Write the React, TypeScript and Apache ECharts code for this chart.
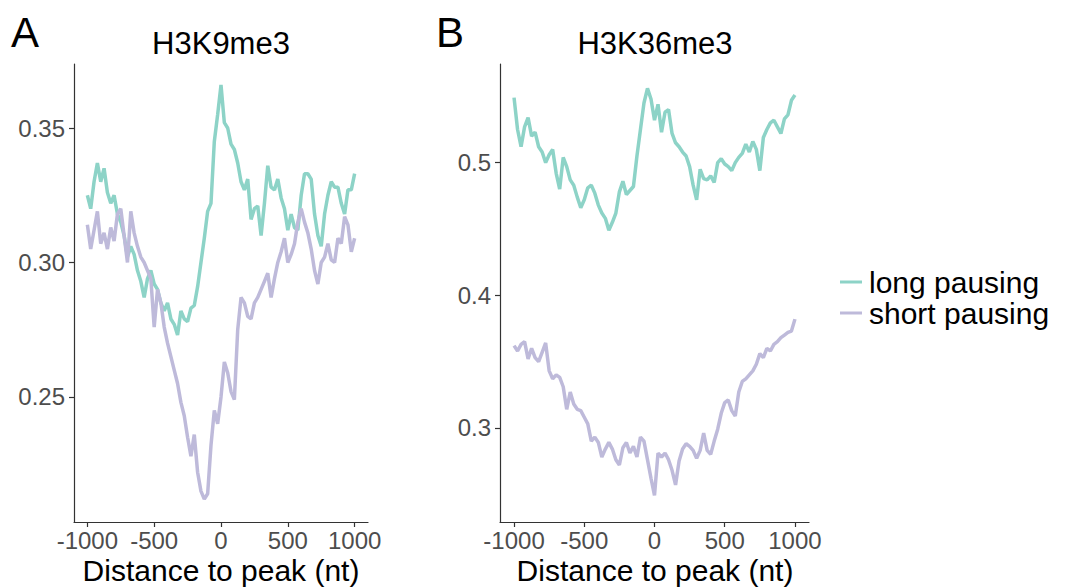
import React, { useEffect, useRef } from "react";
import * as echarts from "echarts";

// Distance to peak (nt)
const positions = [
  -1000, -975, -950, -925, -900, -875, -850, -825, -800, -775,
  -750, -725, -700, -675, -650, -625, -600, -575, -550, -525,
  -500, -475, -450, -425, -400, -375, -350, -325, -300, -275,
  -250, -225, -200, -175, -150, -125, -100, -75, -50, -25,
  0, 25, 50, 75, 100, 125, 150, 175, 200, 225,
  250, 275, 300, 325, 350, 375, 400, 425, 450, 475,
  500, 525, 550, 575, 600, 625, 650, 675, 700, 725,
  750, 775, 800, 825, 850, 875, 900, 925, 950, 975,
  1000,
];

// Panel A: H3K9me3
const k9Long = [
  0.325, 0.320, 0.330, 0.337, 0.330, 0.335, 0.326, 0.322, 0.325, 0.318,
  0.315, 0.310, 0.302, 0.306, 0.303, 0.297, 0.293, 0.287, 0.294, 0.297,
  0.292, 0.290, 0.285, 0.282, 0.285, 0.279, 0.277, 0.273, 0.282, 0.279,
  0.278, 0.283, 0.284, 0.291, 0.300, 0.309, 0.319, 0.322, 0.345, 0.355,
  0.366, 0.352, 0.350, 0.344, 0.342, 0.337, 0.330, 0.327, 0.331, 0.316,
  0.320, 0.321, 0.310, 0.322, 0.336, 0.328, 0.327, 0.331, 0.324, 0.320,
  0.312, 0.318, 0.313, 0.312, 0.325, 0.333, 0.333, 0.331, 0.318, 0.310,
  0.306, 0.318, 0.325, 0.330, 0.328, 0.328, 0.322, 0.318, 0.327, 0.327,
  0.333,
];
const k9Short = [
  0.314, 0.305, 0.312, 0.319, 0.307, 0.311, 0.305, 0.313, 0.308, 0.318,
  0.320, 0.310, 0.300, 0.319, 0.311, 0.306, 0.302, 0.300, 0.297, 0.294,
  0.276, 0.290, 0.285, 0.276, 0.270, 0.265, 0.260, 0.255, 0.248, 0.243,
  0.235, 0.228, 0.236, 0.222, 0.215, 0.212, 0.214, 0.232, 0.245, 0.240,
  0.250, 0.263, 0.259, 0.252, 0.249, 0.275, 0.287, 0.285, 0.280, 0.279,
  0.285, 0.287, 0.290, 0.293, 0.296, 0.287, 0.294, 0.300, 0.304, 0.309,
  0.300, 0.303, 0.307, 0.315, 0.320, 0.315, 0.311, 0.305, 0.297, 0.292,
  0.300, 0.302, 0.307, 0.301, 0.300, 0.309, 0.307, 0.317, 0.314, 0.304,
  0.309,
];

// Panel B: H3K36me3
const k36Long = [
  0.549, 0.525, 0.512, 0.527, 0.534, 0.520, 0.523, 0.512, 0.508, 0.500,
  0.506, 0.510, 0.492, 0.480, 0.504, 0.497, 0.487, 0.483, 0.474, 0.466,
  0.472, 0.481, 0.483, 0.477, 0.468, 0.462, 0.458, 0.449, 0.455, 0.462,
  0.478, 0.486, 0.476, 0.479, 0.482, 0.505, 0.525, 0.545, 0.556, 0.548,
  0.532, 0.544, 0.523, 0.538, 0.540, 0.522, 0.515, 0.512, 0.508, 0.505,
  0.497, 0.483, 0.472, 0.495, 0.488, 0.487, 0.490, 0.485, 0.500, 0.503,
  0.499, 0.497, 0.494, 0.500, 0.504, 0.507, 0.514, 0.508, 0.516, 0.510,
  0.494, 0.519, 0.525, 0.530, 0.532, 0.527, 0.522, 0.533, 0.536, 0.547,
  0.551,
];
const k36Short = [
  0.362, 0.358, 0.363, 0.365, 0.352, 0.360, 0.353, 0.350, 0.357, 0.364,
  0.343, 0.337, 0.340, 0.338, 0.331, 0.314, 0.327, 0.318, 0.314, 0.313,
  0.308, 0.303, 0.290, 0.293, 0.289, 0.278, 0.284, 0.289, 0.284, 0.276,
  0.272, 0.285, 0.289, 0.281, 0.286, 0.278, 0.293, 0.290, 0.276, 0.262,
  0.249, 0.281, 0.278, 0.281, 0.276, 0.268, 0.257, 0.275, 0.284, 0.288,
  0.286, 0.283, 0.277, 0.283, 0.296, 0.283, 0.280, 0.290, 0.299, 0.311,
  0.319, 0.321, 0.313, 0.309, 0.327, 0.335, 0.337, 0.340, 0.343, 0.348,
  0.356, 0.353, 0.360, 0.358, 0.363, 0.365, 0.368, 0.370, 0.372, 0.373,
  0.382,
];

const xTickLabels = [-1000, -500, 0, 500, 1000];
const k9YTicks = [0.25, 0.3, 0.35];
const k36YTicks = [0.3, 0.4, 0.5];
const seriesNames = ["long pausing", "short pausing"];
const panelTitles = ["H3K9me3", "H3K36me3"];
const panelLetters = ["A", "B"];
const xAxisTitle = "Distance to peak (nt)";

const TEAL = "#8dd3c7";
const PURPLE = "#bebada";
const FONT = "'Liberation Sans', Arial, Helvetica, sans-serif";

function pairs(ys: number[]) {
  return positions.map((x, i) => [x, ys[i]]);
}

export default function App() {
  const ref = useRef<HTMLDivElement>(null);
  useEffect(() => {
    if (!ref.current) return;
    const chart = echarts.init(ref.current, undefined, { renderer: "svg" });
    const axisLineStyle = { color: "#333333", width: 1.2 };
    const xAxisBase = (gridIndex: number) => ({
      type: "value",
      gridIndex,
      min: -1100,
      max: 1100,
      axisLine: { show: true, onZero: false, lineStyle: axisLineStyle },
      axisTick: {
        show: true,
        length: 5,
        lineStyle: axisLineStyle,
        customValues: xTickLabels,
      },
      axisLabel: {
        customValues: xTickLabels,
        color: "#4d4d4d",
        fontSize: 24,
        fontFamily: FONT,
        margin: 6,
        formatter: (v: number) => String(v),
      },
      splitLine: { show: false },
    });
    const yAxisBase = (
      gridIndex: number,
      min: number,
      max: number,
      ticks: number[],
      digits: number
    ) => ({
      type: "value",
      gridIndex,
      min,
      max,
      axisLine: { show: true, onZero: false, lineStyle: axisLineStyle },
      axisTick: {
        show: true,
        length: 5,
        lineStyle: axisLineStyle,
        customValues: ticks,
      },
      axisLabel: {
        customValues: ticks,
        color: "#4d4d4d",
        fontSize: 24,
        fontFamily: FONT,
        margin: 9,
        formatter: (v: number) => v.toFixed(digits),
      },
      splitLine: { show: false },
    });
    const lineSeries = (
      name: string,
      idx: number,
      ys: number[],
      color: string
    ) => ({
      type: "line",
      name,
      xAxisIndex: idx,
      yAxisIndex: idx,
      data: pairs(ys),
      showSymbol: false,
      symbol: "none",
      lineStyle: { color, width: 3.5 },
      itemStyle: { color },
      emphasis: { disabled: true },
    });
    const textStyle = (size: number) => ({
      fill: "#000000",
      fontSize: size,
      fontFamily: FONT,
      textAlign: "center",
      textVerticalAlign: "middle",
    });
    const legendText = (text: string) => ({
      text,
      fill: "#000",
      fontSize: 30,
      fontFamily: FONT,
      textAlign: "left",
      textVerticalAlign: "middle",
    });
    chart.setOption({
      animation: false,
      backgroundColor: "#ffffff",
      grid: [
        { left: 74, top: 64, width: 294, height: 458 },
        { left: 500, top: 64, width: 309, height: 458 },
      ],
      xAxis: [xAxisBase(0), xAxisBase(1)],
      yAxis: [
        yAxisBase(0, 0.2035, 0.3738, k9YTicks, 2),
        yAxisBase(1, 0.229, 0.5744, k36YTicks, 1),
      ],
      series: [
        lineSeries(seriesNames[0], 0, k9Long, TEAL),
        lineSeries(seriesNames[1], 0, k9Short, PURPLE),
        lineSeries(seriesNames[0], 1, k36Long, TEAL),
        lineSeries(seriesNames[1], 1, k36Short, PURPLE),
      ],
      graphic: [
        {
          type: "text",
          left: 11,
          top: 11,
          style: { text: panelLetters[0], fill: "#000", fontSize: 42, fontFamily: FONT },
        },
        {
          type: "text",
          left: 436,
          top: 11,
          style: { text: panelLetters[1], fill: "#000", fontSize: 42, fontFamily: FONT },
        },
        { type: "text", x: 221, y: 43, style: { text: panelTitles[0], ...textStyle(31) } },
        { type: "text", x: 655, y: 43, style: { text: panelTitles[1], ...textStyle(31) } },
        { type: "text", x: 221, y: 570, style: { text: xAxisTitle, ...textStyle(30) } },
        { type: "text", x: 655, y: 570, style: { text: xAxisTitle, ...textStyle(30) } },
        {
          type: "line",
          shape: { x1: 840, y1: 282, x2: 862, y2: 282 },
          style: { stroke: TEAL, lineWidth: 3 },
        },
        {
          type: "line",
          shape: { x1: 840, y1: 313, x2: 862, y2: 313 },
          style: { stroke: PURPLE, lineWidth: 3 },
        },
        { type: "text", x: 869, y: 282, style: legendText(seriesNames[0]) },
        { type: "text", x: 869, y: 313, style: legendText(seriesNames[1]) },
      ],
    });
    return () => chart.dispose();
  }, []);
  return (
    <div
      ref={ref}
      style={{ position: "fixed", left: 0, top: 0, width: 1067, height: 588, background: "#fff" }}
    />
  );
}
